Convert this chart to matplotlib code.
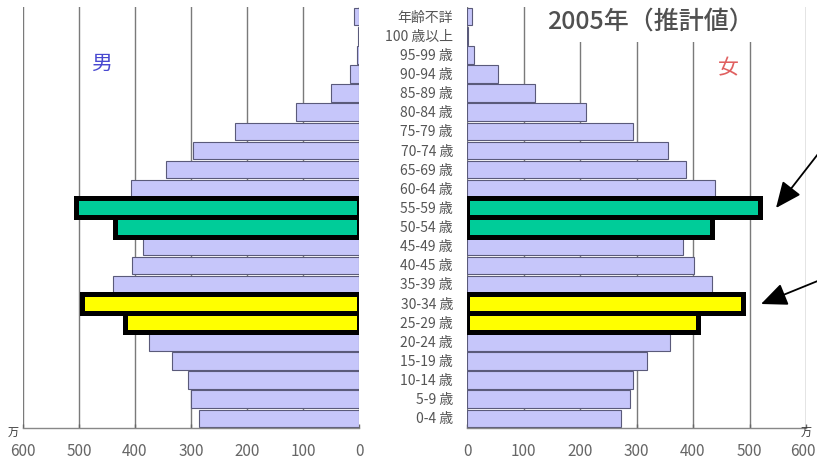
import matplotlib
matplotlib.use("Agg")
import matplotlib.pyplot as plt
from matplotlib.transforms import blended_transform_factory, ScaledTranslation

plt.rcParams['font.family'] = ['Noto Sans CJK JP', 'DejaVu Sans']

# ---------------- data ----------------
ages = ['0-4 歳', '5-9 歳', '10-14 歳', '15-19 歳', '20-24 歳', '25-29 歳',
        '30-34 歳', '35-39 歳', '40-45 歳', '45-49 歳', '50-54 歳', '55-59 歳',
        '60-64 歳', '65-69 歳', '70-74 歳', '75-79 歳', '80-84 歳', '85-89 歳',
        '90-94 歳', '95-99 歳', '100 歳以上', '年齢不詳']
male = [285, 300, 305, 334, 375, 418, 494, 440, 406, 385, 436, 505,
        407, 345, 297, 221, 113, 50, 16, 3, 1, 9]
female = [272, 288, 293, 319, 359, 408, 488, 434, 401, 383, 433, 519,
          439, 388, 355, 294, 211, 121, 55, 13, 1, 8]
ticks = [0, 100, 200, 300, 400, 500, 600]
title = '2005年（推計値）'
yellow_groups = ['25-29 歳', '30-34 歳']
green_groups = ['50-54 歳', '55-59 歳']

# ---------------- figure ----------------
W, H = 817, 464
fig = plt.figure(figsize=(W / 100, H / 100), dpi=100)
fig.patch.set_facecolor('white')

top_px, bot_px = 8, 429
ax_l = fig.add_axes([23 / W, 1 - bot_px / H, 336 / W, (bot_px - top_px) / H])
ax_r = fig.add_axes([467 / W, 1 - bot_px / H, 339 / W, (bot_px - top_px) / H])

base_fill = '#c6c6fa'
base_edge = '#5a5a7a'

def draw(ax, values):
    ys = list(range(len(ages)))
    for y, lab, v in zip(ys, ages, values):
        if lab in yellow_groups:
            ax.barh(y, v, height=1.0, color='#ffff00', edgecolor='black',
                    linewidth=3.6, zorder=3)
        elif lab in green_groups:
            ax.barh(y, v, height=1.0, color='#00cc99', edgecolor='black',
                    linewidth=3.6, zorder=3)
        else:
            ax.barh(y, v, height=0.92, color=base_fill, edgecolor=base_edge,
                    linewidth=0.8, zorder=2)
    ax.set_ylim(-0.5, len(ages) - 0.5)
    ax.set_yticks([])
    ax.set_xticks(ticks)
    ax.set_xticklabels([str(t) for t in ticks])
    ax.tick_params(axis='x', direction='in', length=3, width=1, color='#666666',
                   labelsize=11, labelcolor='#666666', pad=10)
    for s in ['top', 'left', 'right']:
        ax.spines[s].set_visible(False)
    ax.spines['bottom'].set_color('#888888')
    ax.spines['bottom'].set_linewidth(1)
    ax.set_axisbelow(True)
    ax.grid(axis='x', color='#7a7a7a', linewidth=1)
    ax.grid(axis='y', visible=False)
    ax.patch.set_alpha(0)

draw(ax_l, male)
ax_l.set_xlim(600, 0)
draw(ax_r, female)
ax_r.set_xlim(0, 600)

# keep the right-most tick label inside the canvas
last = ax_r.get_xticklabels()[-1]
last.set_ha('right')
last.set_transform(last.get_transform() + ScaledTranslation(10 / 100, 0, fig.dpi_scale_trans))

# age labels between panels
tr = blended_transform_factory(fig.transFigure, ax_l.transData)
for y, lab in enumerate(ages):
    fig.text(453 / W, y, lab, transform=tr, ha='right', va='center',
             fontsize=10, color='#555555')

# title with white background hiding gridlines
fig.text(650 / W, 1 - 22 / H, title, ha='center', va='center', fontsize=18,
         fontweight='medium', color='#505050',
         bbox=dict(facecolor='white', edgecolor='none', pad=6))

# sex labels
fig.text(102 / W, 1 - 64 / H, '男', ha='center', va='center', fontsize=15,
         color='#4848d0')
fig.text(728 / W, 1 - 68 / H, '女', ha='center', va='center', fontsize=15,
         color='#e06060')

# unit marks
fig.text(13 / W, 1 - 433 / H, '万', ha='center', va='center', fontsize=8,
         color='#333333', style='italic')
fig.text(806 / W, 1 - 433 / H, '万', ha='center', va='center', fontsize=8,
         color='#333333', style='italic')

# arrows
aprops = dict(arrowstyle='-|>,head_length=0.8,head_width=0.35',
              mutation_scale=20, lw=1.3, color='black', shrinkA=0, shrinkB=0)
fig.add_artist(matplotlib.patches.FancyArrowPatch(
    (825, H - 146), (776, H - 209), transform=None, **aprops))
fig.add_artist(matplotlib.patches.FancyArrowPatch(
    (825, H - 279), (761, H - 305), transform=None, **aprops))

fig.savefig('out.png', dpi=100)
